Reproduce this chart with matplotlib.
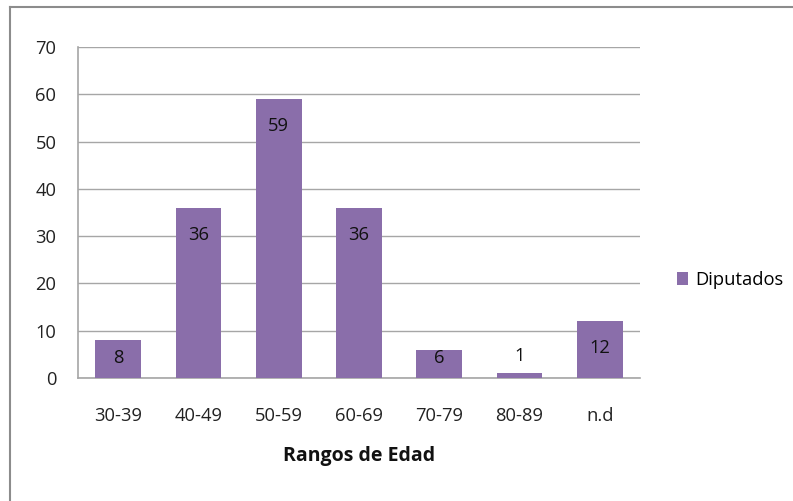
import matplotlib
matplotlib.use("Agg")
import matplotlib.pyplot as plt
from matplotlib.lines import Line2D
from matplotlib.patches import Patch
from matplotlib.transforms import offset_copy

categories = ["30-39", "40-49", "50-59", "60-69", "70-79", "80-89", "n.d"]
values = [8, 36, 59, 36, 6, 1, 12]
series_name = "Diputados"
yticks = [0, 10, 20, 30, 40, 50, 60, 70]

bar_color = "#8A6EAA"
grid_color = "#A6A6A6"
plt.rcParams['font.family'] = ['Open Sans', 'DejaVu Sans']
FS = 13.2

fig = plt.figure(figsize=(7.93, 5.01), dpi=100)
W, H = 793, 501
ax = fig.add_axes([78 / W, 1 - 378 / H, (640 - 78) / W, (378 - 47) / H])

x = list(range(len(categories)))
bars = ax.bar(x, values, width=0.57, color=bar_color, zorder=3)
ax.set_xlim(-0.5, len(categories) - 0.5)
ax.set_ylim(0, 70)
ax.set_yticks(yticks)
ax.set_xticks(x)
ax.set_xticklabels(categories)
ax.yaxis.grid(True, color=grid_color, linewidth=1, zorder=0)
ax.tick_params(axis='both', length=0, labelsize=FS, colors="#222222")
ax.tick_params(axis='x', pad=21)
ax.tick_params(axis='y', pad=15.5)
for s in ["top", "right"]:
    ax.spines[s].set_visible(False)
for s in ["left", "bottom"]:
    ax.spines[s].set_color(grid_color)
    ax.spines[s].set_linewidth(1.2)

px_per_unit = (378 - 47) / 70.0
for xi, v in zip(x, values):
    h_px = v * px_per_unit
    if h_px >= 20:
        off = min(27, h_px - 20)
        tr = offset_copy(ax.transData, fig=fig, x=0, y=-off, units='dots')
    else:
        tr = offset_copy(ax.transData, fig=fig, x=0, y=17, units='dots')
    ax.text(xi, v, str(v), ha='center', va='center', fontsize=FS,
            color="#111111", zorder=4, transform=tr)

ax.set_xlabel("Rangos de Edad", fontsize=14, fontweight='bold', labelpad=15, color="#111111")

fig.legend(handles=[Patch(facecolor=bar_color, edgecolor='none', label=series_name)],
           loc='center left', bbox_to_anchor=(660 / W, 1 - 280 / H), frameon=False,
           fontsize=FS, handlelength=0.65, handleheight=0.65, handletextpad=0.35)

# outer chart border
fig.add_artist(Line2D([9.5 / W, 9.5 / W], [0, 1 - 6.5 / H], transform=fig.transFigure, color="#8C8C8C", lw=1.5))
fig.add_artist(Line2D([9.5 / W, 1], [1 - 6.5 / H, 1 - 6.5 / H], transform=fig.transFigure, color="#8C8C8C", lw=1.5))

fig.savefig("out.png", dpi=100)
